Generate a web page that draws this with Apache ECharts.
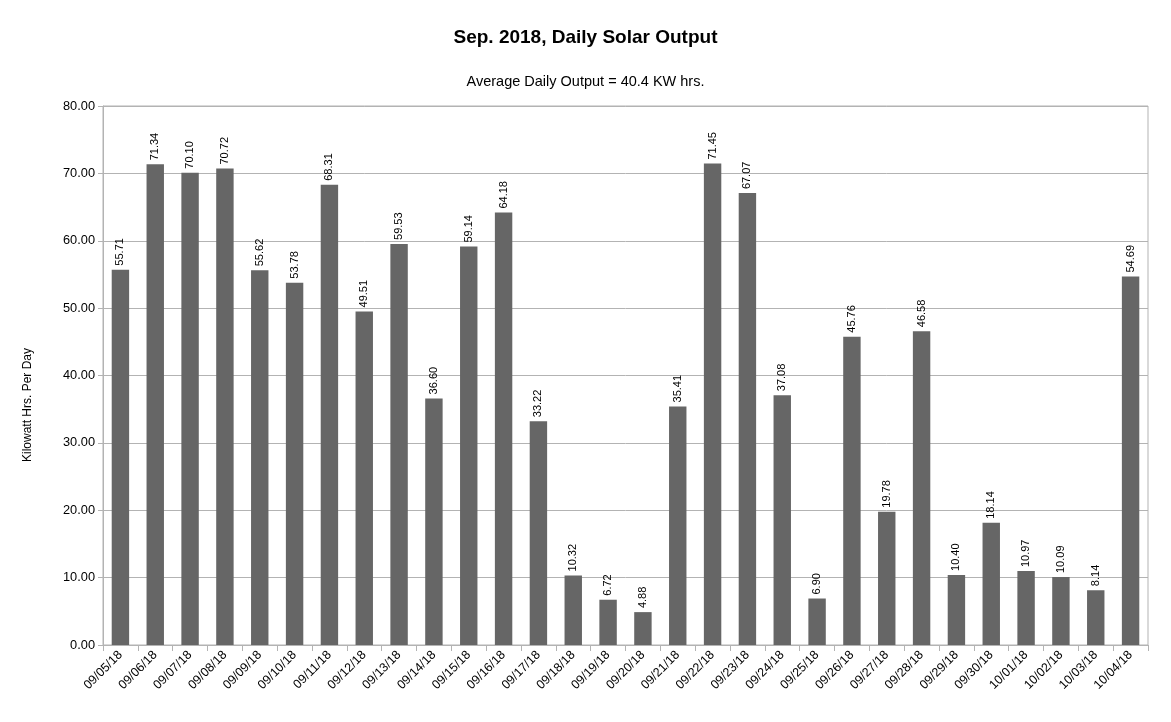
<!DOCTYPE html>
<html><head><meta charset="utf-8">
<script src="https://cdn.jsdelivr.net/npm/echarts@6/dist/echarts.min.js"></script>
<style>html,body{margin:0;padding:0;background:#fff}#c{width:1171px;height:722px}</style>
</head><body><div id="c"></div>
<script>
const categories = ["09/05/18","09/06/18","09/07/18","09/08/18","09/09/18","09/10/18","09/11/18","09/12/18","09/13/18","09/14/18","09/15/18","09/16/18","09/17/18","09/18/18","09/19/18","09/20/18","09/21/18","09/22/18","09/23/18","09/24/18","09/25/18","09/26/18","09/27/18","09/28/18","09/29/18","09/30/18","10/01/18","10/02/18","10/03/18","10/04/18"];
const outputKWh = [55.71,71.34,70.10,70.72,55.62,53.78,68.31,49.51,59.53,36.60,59.14,64.18,33.22,10.32,6.72,4.88,35.41,71.45,67.07,37.08,6.90,45.76,19.78,46.58,10.40,18.14,10.97,10.09,8.14,54.69];
const titleText = "Sep. 2018, Daily Solar Output";
const subtitleText = "Average Daily Output = 40.4 KW hrs.";
const yAxisName = "Kilowatt Hrs. Per Day";

const chart = echarts.init(document.getElementById('c'), null, {renderer:'canvas'});
const font = "'Liberation Sans', Arial, sans-serif";
chart.setOption({
  animation:false,
  backgroundColor:'#fff',
  title:[
    {text:titleText,left:'center',top:23,textStyle:{fontFamily:font,fontSize:19,fontWeight:'bold',color:'#000'}},
    {text:subtitleText,left:'center',top:69,textStyle:{fontFamily:font,fontSize:14.5,fontWeight:'normal',color:'#000'}}
  ],
  graphic:[{type:'text',left:22,top:348,rotation:Math.PI/2,style:{text:yAxisName,font:"12px 'Liberation Sans', Arial, sans-serif",fill:'#000'}}],
  grid:{left:103,right:23,top:106,bottom:77,containLabel:false,show:true,borderColor:'#b3b3b3',borderWidth:1},
  xAxis:{type:'category',data:categories,
    axisLine:{lineStyle:{color:'#b3b3b3'}},
    axisTick:{show:true,alignWithLabel:false,length:6,lineStyle:{color:'#b3b3b3'}},
    axisLabel:{rotate:45,interval:0,fontFamily:font,fontSize:12.5,color:'#000',margin:8}},
  yAxis:{type:'value',min:0,max:80,interval:10,
    axisLine:{show:true,lineStyle:{color:'#b3b3b3'}},
    axisTick:{show:true,length:5,lineStyle:{color:'#b3b3b3'}},
    splitLine:{lineStyle:{color:'#b3b3b3'}},
    axisLabel:{formatter:v=>v.toFixed(2),fontFamily:font,fontSize:12.8,color:'#000',margin:8}},
  series:[{type:'bar',data:outputKWh,barWidth:'50%',
    itemStyle:{color:'#666666'},
    label:{show:true,position:'top',rotate:90,align:'left',verticalAlign:'middle',distance:4,
      formatter:p=>p.value.toFixed(2),fontFamily:font,fontSize:11,color:'#000'}}]
});
</script></body></html>
